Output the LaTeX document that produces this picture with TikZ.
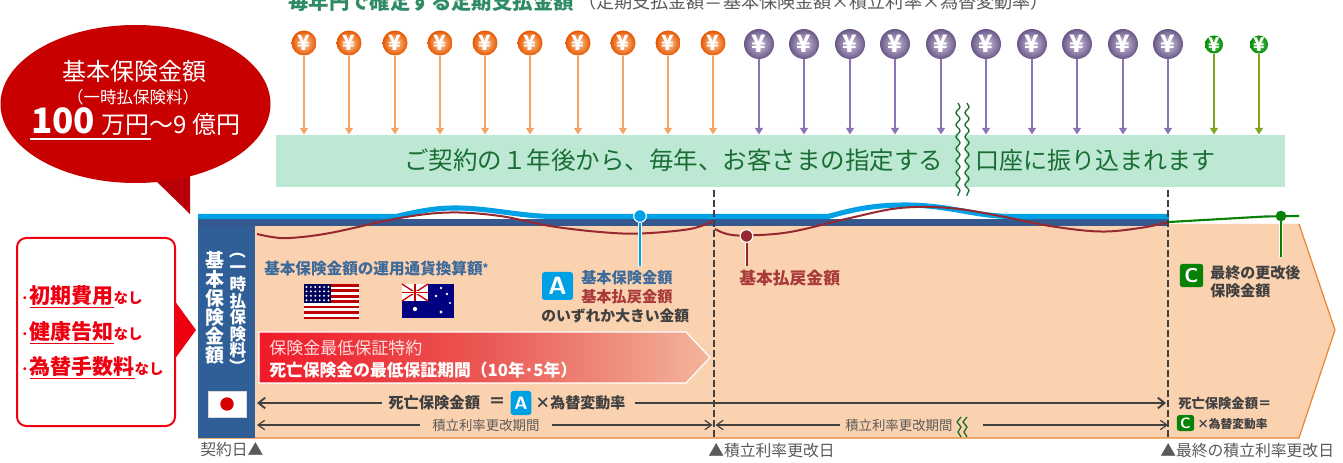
\documentclass[tikz,border=0pt]{standalone}
\usepackage{fontspec}
\setmainfont{Noto Sans CJK JP}
\usepackage{graphicx}
\usetikzlibrary{arrows.meta,shapes.geometric,decorations.pathmorphing,calc,backgrounds}
\definecolor{bandgreen}{HTML}{BDE8D4}
\definecolor{txtgreen}{HTML}{1A6E34}
\definecolor{toptitle}{HTML}{2E8B63}
\definecolor{bubblered}{HTML}{C80000}
\definecolor{tailred}{HTML}{B80008}
\definecolor{pure}{HTML}{EE0010}
\definecolor{peach}{HTML}{FBD2B0}
\definecolor{edgeorange}{HTML}{E8842C}
\definecolor{colblue}{HTML}{2F5F96}
\definecolor{darkband}{HTML}{35598E}
\definecolor{cyanb}{HTML}{00A0E4}
\definecolor{brown}{HTML}{96282F}
\definecolor{brownt}{HTML}{A83A3A}
\definecolor{blueT}{HTML}{3E6A9A}
\definecolor{grn}{HTML}{078207}
\definecolor{grayt}{HTML}{5A5A5A}
\definecolor{darkt}{HTML}{404040}
\definecolor{orangea}{HTML}{F4A565}
\definecolor{purplea}{HTML}{8C74B4}
\definecolor{greena}{HTML}{7FA51E}
\newcommand\fs[1]{\fontsize{\fpeval{#1*0.75}}{\fpeval{#1*0.9}}\selectfont}
\tikzset{
  lbl/.style={inner sep=0pt,anchor=west},
  coinO/.style={circle,minimum size=18.75pt,inner sep=0pt,inner color=orange!35!white,outer color=orange!75!red!90!black,text=white,font=\fs{21}\bfseries},
  coinP/.style={circle,minimum size=22.5pt,inner sep=0pt,inner color=purplea!40!white,outer color=purplea!75!black,text=white,font=\fs{24}\bfseries},
  coinG/.style={circle,minimum size=13.5pt,inner sep=0pt,inner color=green!60!black!55!white,outer color=green!55!black,text=white,font=\fs{19}\bfseries},
  payO/.style={draw=orangea,line width=1.8pt,-{Triangle[length=5pt,width=6pt]}},
  payP/.style={draw=purplea,line width=1.8pt,-{Triangle[length=5pt,width=6pt]}},
  payG/.style={draw=greena,line width=1.8pt,-{Triangle[length=5pt,width=6pt]}},
  badge/.style={rounded corners=2pt,inner sep=0pt,text=white,font=\sffamily\bfseries,align=center},
  pindot/.style={circle,draw=white,line width=.8pt,inner sep=0pt,minimum size=10pt},
  dashline/.style={draw=darkt,line width=1.7pt,dash pattern=on 5pt off 2.5pt},
  spanA/.style={draw=darkt,line width=1.4pt,-{Straight Barb[length=5pt,width=8pt]}},
  spanB/.style={draw=darkt,line width=.9pt,-{Straight Barb[length=5pt,width=7pt]}},
  wav/.style={draw=txtgreen,line width=1pt,decorate,decoration={snake,segment length=9pt,amplitude=1.5pt}},
  vtext/.style={text=white,inner sep=0pt,align=center,font={\fontsize{#1}{#1}\selectfont\bfseries\lineskiplimit=-100pt\relax}},
}
\begin{document}
\begin{tikzpicture}[x=0.75pt,y=-0.75pt]
\useasboundingbox (0,0) rectangle (1343,463);
\clip (0,0) rectangle (1343,463);
% top title
\node[lbl,text=toptitle,font=\fs{20.4}\bfseries] (title) at (288,2) {毎年円で確定する定期支払金額};
\node[lbl,text=grayt,font=\fs{18.1}] (formula) at (578,2) {（定期支払金額＝基本保険金額×積立利率×為替変動率）};
% band
\node[fill=bandgreen,minimum width=756.75pt,minimum height=39pt,inner sep=0pt,anchor=south west] (band) at (276,187) {};
\node[lbl,text=txtgreen,font=\fs{24.5}] (bandA) at (404,160) {ご契約の１年後から、毎年、お客さまの指定する};
\node[lbl,text=txtgreen,font=\fs{24}] (bandB) at (975,160) {口座に振り込まれます};
% coins
\foreach \n/\x in {1/304,2/349,3/395,4/440,5/485,6/530,7/578,8/623,9/668,10/713}{
  \node[coinO] (o\n) at (\x,43) {¥};
  \draw[payO] (o\n) -- (o\n |- band.north);
}
\foreach \n/\x in {1/759,2/804,3/850,4/895,5/941,6/986,7/1032,8/1077,9/1123,10/1168}{
  \node[coinP] (p\n) at (\x,44) {¥};
  \draw[payP] (p\n) -- (p\n |- band.north);
}
\foreach \n/\x in {1/1214,2/1259}{
  \node[coinG] (g\n) at (\x,44.5) {¥};
  \draw[payG] (g\n) -- (g\n |- band.north);
}
% band wave break
\fill[white] (959,103) rectangle (966,196);
\draw[wav] (958,103) -- (958,196);
\draw[wav] (967,103) -- (967,196);
% bubble
\fill[tailred] (155,180) -- (190,214) -- (190,176) -- cycle;
\node[ellipse,fill=bubblered,minimum width=202.5pt,minimum height=118.5pt,inner sep=0pt] (bubble) at (135.5,104) {};
\node[text=white,font=\fs{24},inner sep=0pt] (b1) at (134,71) {基本保険金額};
\node[text=white,font=\fs{16.5},inner sep=0pt] (b2) at (133,97) {（一時払保険料）};
\node[lbl,text=white,font=\fs{24}] (b3) at (31,122) {{\fs{35}\bfseries 100}\hspace{5pt}万円〜9 億円};
\draw[white,line width=1.5pt] (30,139.5) -- (151,139.5);
% left box
\node[draw=pure,line width=1.5pt,rounded corners=7pt,minimum width=118.5pt,minimum height=141pt,inner sep=0pt,anchor=north west] (lbox) at (16,237) {};
\fill[pure] (174,300) -- (196,330) -- (174,360) -- cycle;
\newcommand\lline[4]{\node[lbl,text=pure,font=\fs{21}\bfseries] (#4) at (21,#1) {\fs{14}･\hspace{1pt}\fs{21}\underline{#2}\fs{14.5}#3};}
\lline{297}{初期費用}{なし}{l1}
\lline{333}{健康告知}{なし}{l2}
\lline{368}{為替手数料}{なし}{l3}
% main body
\fill[peach] (255,224) -- (1299,224) -- (1335,330) -- (1299,438) -- (255,438) -- cycle;
\draw[edgeorange,line width=.9pt] (1299,224) -- (1335,330) -- (1299,438) -- (198,438);
\fill[colblue] (198,219) rectangle (255,438);
\fill[darkband] (198,219) rectangle (1169,226);
% cyan wave
\draw[cyanb,line width=3.8pt] (198,216.5) -- (396,216.5) .. controls (420,211) and (435,208) .. (455,208) .. controls (490,208) and (520,216.5) .. (555,216.5) -- (828,216.5) .. controls (855,209) and (875,205) .. (905,205) .. controls (950,205) and (975,216.5) .. (1012,216.5) -- (1169,216.5);
% brown curve
\draw[brown,line width=1.5pt] plot[smooth,tension=.6] coordinates {(257,234) (272,237) (290,238) (330,233) (400,218) (450,212.5) (500,216) (550,226) (600,232) (640,233.5) (690,229) (713,221)};
\draw[brown,line width=1.5pt] plot[smooth,tension=.6] coordinates {(715,229) (727,234) (746,235.5) (790,232) (850,218) (900,208) (950,208) (1000,216) (1050,226) (1100,231.5) (1140,228) (1169,222)};
% green
\draw[grn,line width=1.6pt] (1169,222) -- (1265,216.5) -- (1299,216);
% dashed rate dates
\coordinate (d1t) at (714,190); \coordinate (d1b) at (714,438);
\coordinate (d2t) at (1168,190); \coordinate (d2b) at (1168,438);
\draw[dashline] (d1t) -- (d1b);
\draw[dashline] (d2t) -- (d2b);
% pins
\node[pindot,fill=cyanb,minimum size=9.5pt] (pa) at (640,216) {};
\coordinate (pae) at (640,266);
\draw[white,line width=2.6pt] (pa.south) -- (pae);
\draw[cyanb,line width=1.5pt] (pa.south) -- (pae);
\node[pindot,fill=brown,minimum size=9.5pt] (pb) at (746.5,236) {};
\coordinate (pbe) at (746.5,266);
\draw[white,line width=2.6pt] (pb.south) -- (pbe);
\draw[brown,line width=1.5pt] (pb.south) -- (pbe);
\coordinate (pce) at (1281,257);
\draw[white,line width=2.6pt] (1281,222) -- (pce);
\draw[grn,line width=1.5pt] (1281,216) -- (pce);
\node[circle,fill=grn,inner sep=0pt,minimum size=8pt] (pc) at (1281,216) {};
% column text
\node[vtext=14.2] (cv1) at (215,307.5) {基\\本\\保\\険\\金\\額};
\node[vtext=12.4] (cv2) at (238,309) {\rotatebox[origin=c]{-90}{（}\\一\\時\\払\\保\\険\\料\\\rotatebox[origin=c]{-90}{）}};
% japan flag
\node[fill=white,draw=black!15,minimum width=28.5pt,minimum height=19.5pt,inner sep=0pt] (jp) at (227,404) {};
\fill[red!85!black] (jp.center) circle (5pt);
% currency text
\node[lbl,text=blueT,font=\fs{15.6}\bfseries] (cur) at (264,269) {基本保険金額の運用通貨換算額\raisebox{2pt}{\fs{11}*}};
% US flag
\fill[white] (304,284) rectangle (359,318);
\foreach \i in {0,...,6}{\fill[red!75!black] (304,{284+\i*5.45}) rectangle (359,{284+\i*5.45+2.7});}
\fill[blue!35!black] (304,284) rectangle (331,303);
\foreach \i in {0,...,5}{\foreach \j in {0,...,3}{\fill[white] ({306.5+\i*4.4},{287+\j*4.4}) circle (.8pt);}}
% AU flag
\fill[blue!50!black] (402,284) rectangle (454,318);
\fill[white] (402,284) rectangle (428,301);
\draw[red!80!black,line width=1pt] (402,284) -- (428,301) (402,301) -- (428,284);
\draw[white,line width=2.2pt] (415,284) -- (415,301) (402,292.5) -- (428,292.5);
\draw[red!80!black,line width=1.2pt] (415,284) -- (415,301) (402,292.5) -- (428,292.5);
\foreach \x/\y/\r in {415/309/1.6,441/288/1,447/294/1,436/296/1,441/312/1.2,450/303/.8}{\fill[white] (\x,\y) circle (\r pt);}
% A legend
\node[badge,fill=cyanb,minimum width=23.25pt,minimum height=21pt,font=\fs{25}\sffamily\bfseries] (Aa) at (557.5,286) {A};
\node[lbl,text=blueT,font=\fs{15.2}\bfseries] (A1) at (581,278) {基本保険金額};
\node[lbl,text=brownt,font=\fs{15.2}\bfseries] (A2) at (581,297) {基本払戻金額};
\node[lbl,text=darkt,font=\fs{14.8}\bfseries] (A3) at (541,316) {のいずれか大きい金額};
\node[lbl,text=brownt,font=\fs{16.8}\bfseries] (Bt) at (739,278) {基本払戻金額};
% red arrow
\shade[left color=pure!90!white,right color=pure!12!peach!95!gray,middle color=pure!60!peach!92!gray,draw=white,line width=.9pt] (259,332) -- (686,332) -- (710,357.5) -- (686,383) -- (259,383) -- cycle;
\node[lbl,text=red!12!white,font=\fs{17}] (r1) at (269,348) {保険金最低保証特約};
\node[lbl,text=white,font=\fs{16.8}\bfseries] (r2) at (269,370) {死亡保険金の最低保証期間（10年･5年）};
% span y=403
\node[lbl,text=darkt,font=\fs{15.3}\bfseries] (dth) at (388,403) {死亡保険金額};
\node[text=darkt,font=\fs{17}\bfseries,inner sep=0pt] (eq) at (497,403) {＝};
\node[badge,fill=cyanb,minimum width=15.5pt,minimum height=18pt,font=\fs{18}\sffamily\bfseries] (Ab) at (521,403) {A};
\node[lbl,text=darkt,font=\fs{15}\bfseries] (fx) at (535,403) {×為替変動率};
\coordinate (s1l) at (257,403); \coordinate (s1r) at (1166,403);
\draw[spanA] (dth.west) ++(-6,0) -- (s1l);
\draw[spanA] (fx.east) ++(9,0) -- (s1r);
% span y=425
\node[lbl,text=grayt,font=\fs{13.4}] (p1) at (432,425) {積立利率更改期間};
\node[lbl,text=grayt,font=\fs{13.4}] (p2) at (845,425) {積立利率更改期間};
\coordinate (s2a) at (257,425); \coordinate (s2b) at (712.5,425); \coordinate (s2c) at (715.5,425); \coordinate (s2d) at (1168,425); \coordinate (s2e) at (983,425);
\draw[spanB] (p1.west) ++(-12,0) -- (s2a);
\draw[spanB] (p1.east) ++(12,0) -- (s2b);
\draw[spanB] (p2.west) ++(-5,0) -- (s2c);
\draw[spanB] (s2e) -- (s2d);
\draw[txtgreen,line width=1pt] (961,417) -- (957,422) -- (961,427) -- (958,432) -- (961,437);
\draw[txtgreen,line width=1pt] (967,417) -- (963,422) -- (967,427) -- (964,432) -- (967,437);
% C legend
\node[badge,fill=grn,minimum width=17.5pt,minimum height=17.5pt,font=\fs{20}\sffamily\bfseries] (Ca) at (1191.5,275.5) {C};
\node[lbl,text=darkt,font=\fs{15}\bfseries] (C1) at (1210,273) {最終の更改後};
\node[lbl,text=darkt,font=\fs{15}\bfseries] (C2) at (1210,291) {保険金額};
\node[lbl,text=darkt,font=\fs{13.3}\bfseries] (dc) at (1178,403) {死亡保険金額＝};
\node[badge,fill=grn,minimum width=13pt,minimum height=12pt,font=\fs{15}\sffamily\bfseries] (Cb) at (1185.5,423) {C};
\node[lbl,text=darkt,font=\fs{11.7}\bfseries] (fc) at (1197,424) {×為替変動率};
% dates
\node[lbl,text=grayt,font=\fs{15.8}] (t0) at (200,450) {契約日▲};
\node[lbl,text=grayt,font=\fs{15.8}] (t1) at (708,451) {▲積立利率更改日};
\node[lbl,text=grayt,font=\fs{15.8}] (t2) at (1160,451) {▲最終の積立利率更改日};
\end{tikzpicture}
\end{document}
